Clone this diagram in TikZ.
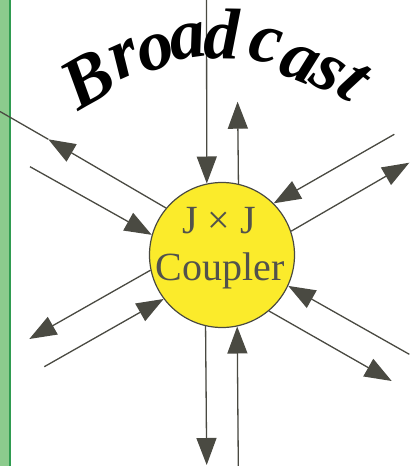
\documentclass[tikz,border=0pt]{standalone}
\usepackage{fontspec}
\setmainfont{Liberation Serif}
\usetikzlibrary{arrows.meta}
\definecolor{linegray}{HTML}{4A4A42}
\definecolor{txtgray}{HTML}{52524C}
\definecolor{cyellow}{HTML}{FBEB2B}
\definecolor{barfill}{HTML}{8CCB8D}
\definecolor{baredge}{HTML}{2F9B50}
\tikzset{
  wire/.style={draw=linegray, line width=1.3pt},
  arrowwire/.style={wire, -{Triangle[length=27pt,width=20pt]}, fill=linegray},
  coupler/.style={circle, draw=linegray, line width=1.2pt, fill=cyellow, minimum size=145pt, inner sep=0pt},
  ctext/.style={text=txtgray, font=\fontsize{40}{46}\selectfont, inner sep=0pt, anchor=base},
  bc/.style={text=black, font=\fontsize{72}{76}\selectfont\bfseries\itshape, inner sep=0pt, anchor=center}
}
\begin{document}
\begin{tikzpicture}[x=1pt,y=-1pt]
\useasboundingbox (0,0) rectangle (412,466);
% green bar
\fill[barfill] (0,0) rectangle (9.5,466);
\draw[baredge, line width=1.6pt] (10,0) -- (10,466);
% coupler
\node[coupler] (c) at (222,255) {};
\node[ctext] (t1) at (219,233.5) {J × J};
\node[ctext] (t2) at (220,280) {Coupler};
% free ends
\coordinate (v1) at (206.5,0);
\coordinate (v2) at (237.6,101.7);
\coordinate (v3) at (206.7,465);
\coordinate (v4) at (238.3,466);
\coordinate (tA) at (48.3,139.3);
\coordinate (eA) at (0,111.5);
\coordinate (sB) at (30,166.7);
\coordinate (sC) at (394.3,134.3);
\coordinate (tD) at (409.3,162.7);
\coordinate (tE) at (29.3,339);
\coordinate (sF) at (44.3,366.7);
\coordinate (sG) at (409.3,354.3);
\coordinate (tH) at (391.7,381);
% vertical connectors
\draw[arrowwire] (v1) -- (c.102.3);
\draw[arrowwire] (c.77.7) -- (v2);
\draw[arrowwire] (c.257.9) -- (v3);
\draw[arrowwire] (v4) -- (c.282.9);
% diagonal connectors
\draw[arrowwire] (c.140.3) -- (tA);
\draw[wire] (tA) -- (eA);
\draw[arrowwire] (sB) -- (c.164.5);
\draw[arrowwire] (sC) -- (c.45.2);
\draw[arrowwire] (c.19.7) -- (tD);
\draw[arrowwire] (c.192.1) -- (tE);
\draw[arrowwire] (sF) -- (c.217.2);
\draw[arrowwire] (sG) -- (c.335.5);
\draw[arrowwire] (c.310.4) -- (tH);
% Broadcast
\node[bc, rotate=30] (b1) at (88,79) {B};
\node[bc, rotate=24] (b2) at (125,59) {r};
\node[bc, rotate=16] (b3) at (156,53) {o};
\node[bc, rotate=8] (b4) at (188,42) {a};
\node[bc, rotate=-1] (b5) at (222,34) {d};
\node[bc, rotate=-12] (b6) at (266,46) {c};
\node[bc, rotate=-22] (b7) at (299,64) {a};
\node[bc, rotate=-30] (b8) at (328,74) {s};
\node[bc, rotate=-37] (b9) at (353,82) {t};
\end{tikzpicture}
\end{document}
